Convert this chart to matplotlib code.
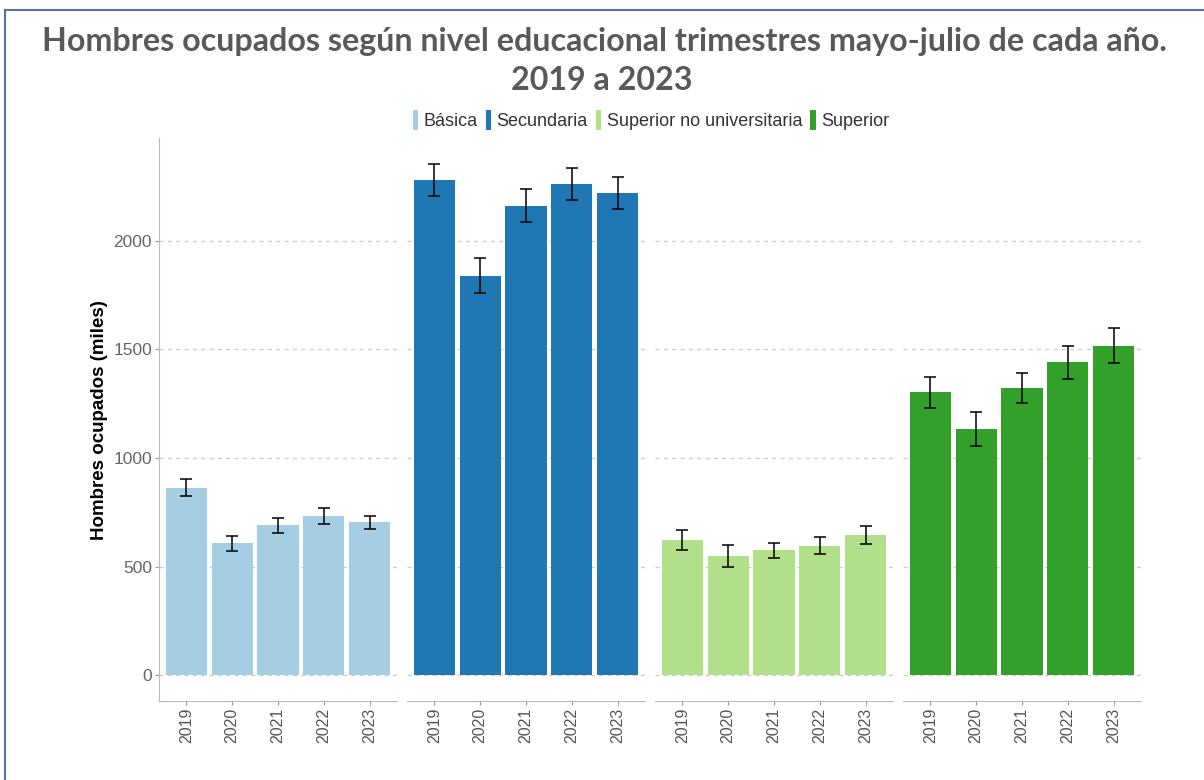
import matplotlib
matplotlib.use('Agg')
import matplotlib.pyplot as plt
from matplotlib.patches import Patch
from matplotlib.lines import Line2D

plt.rcParams['font.family'] = ['Liberation Sans', 'DejaVu Sans']

# datos (miles)
anios = ['2019', '2020', '2021', '2022', '2023']
niveles = ['Básica', 'Secundaria', 'Superior no universitaria', 'Superior']
basica = [864, 607, 691, 733, 705]
secundaria = [2280, 1839, 2161, 2262, 2219]
sup_no_univ = [623, 548, 576, 597, 645]
superior = [1303, 1132, 1323, 1440, 1517]
err_basica = [40, 35, 35, 36, 30]
err_secundaria = [74, 81, 75, 74, 72]
err_sup_no_univ = [47, 50, 35, 40, 41]
err_superior = [71, 78, 69, 75, 80]
yticks = [0, 500, 1000, 1500, 2000]

valores = [basica, secundaria, sup_no_univ, superior]
errores = [err_basica, err_secundaria, err_sup_no_univ, err_superior]
colores = ['#A6CEE3', '#1F78B4', '#B2DF8A', '#33A02C']

W, H = 1204, 780
fig = plt.figure(figsize=(W / 100, H / 100), dpi=100)

# marco azul (izquierda y arriba)
borde = '#4F72A8'
fig.add_artist(Line2D([5 / W, 5 / W], [0, 1 - 10 / H], color=borde, lw=1.5))
fig.add_artist(Line2D([5 / W, 1], [1 - 10 / H, 1 - 10 / H], color=borde, lw=1.5))

x = list(range(len(anios)))
for i in range(4):
    ax = fig.add_axes([(159 + i * 248) / W, 79 / H, 238 / W, 563 / H])
    ax.bar(x, valores[i], width=0.9, color=colores[i], zorder=2)
    ax.errorbar(x, valores[i], yerr=errores[i], fmt='none', ecolor='black',
                elinewidth=1.1, capsize=4, capthick=1.1, zorder=3)
    ax.set_xlim(-0.6, 4.6)
    ax.set_ylim(-118, 2472)
    ax.set_yticks(yticks)
    ax.set_xticks(x)
    ax.set_xticklabels(anios, rotation=90, fontsize=11.5, color='#555555')
    ax.grid(axis='y', linestyle=(0, (3, 3)), color='#cfcfcf', lw=1.0, zorder=0)
    ax.set_axisbelow(True)
    for s in ['top', 'right']:
        ax.spines[s].set_visible(False)
    ax.spines['bottom'].set_color('#bbbbbb')
    ax.spines['left'].set_color('#bbbbbb')
    ax.tick_params(axis='x', length=3, width=0.8, color='#999999', pad=2)
    ax.tick_params(axis='y', length=3, width=0.8, color='#999999', pad=2,
                   labelsize=12.5, labelcolor='#666666')
    if i > 0:
        ax.spines['left'].set_visible(False)
        ax.tick_params(axis='y', left=False, labelleft=False)

fig.text(99 / W, 1 - 420 / H, 'Hombres ocupados (miles)', rotation=90,
         ha='center', va='center', fontsize=13.5, fontweight='bold', color='black')

fig.text(0.502, 1 - 42 / H,
         'Hombres ocupados según nivel educacional trimestres mayo-julio de cada año.',
         ha='center', va='center', fontsize=23.2, fontweight='bold', color='#595959',
         family=['Lato', 'DejaVu Sans'])
fig.text(0.5, 1 - 80 / H, '2019 a 2023', ha='center', va='center', fontsize=23.2,
         fontweight='bold', color='#595959', family=['Lato', 'DejaVu Sans'])

handles = [Patch(facecolor=c) for c in colores]
fig.legend(handles, niveles, loc='center', bbox_to_anchor=(651 / W, 1 - 120 / H),
           ncol=4, frameon=False, fontsize=13, handlelength=0.3, handleheight=1.3,
           handletextpad=0.3, columnspacing=0.45, labelcolor='#333333')

plt.savefig('out.png', dpi=100)
